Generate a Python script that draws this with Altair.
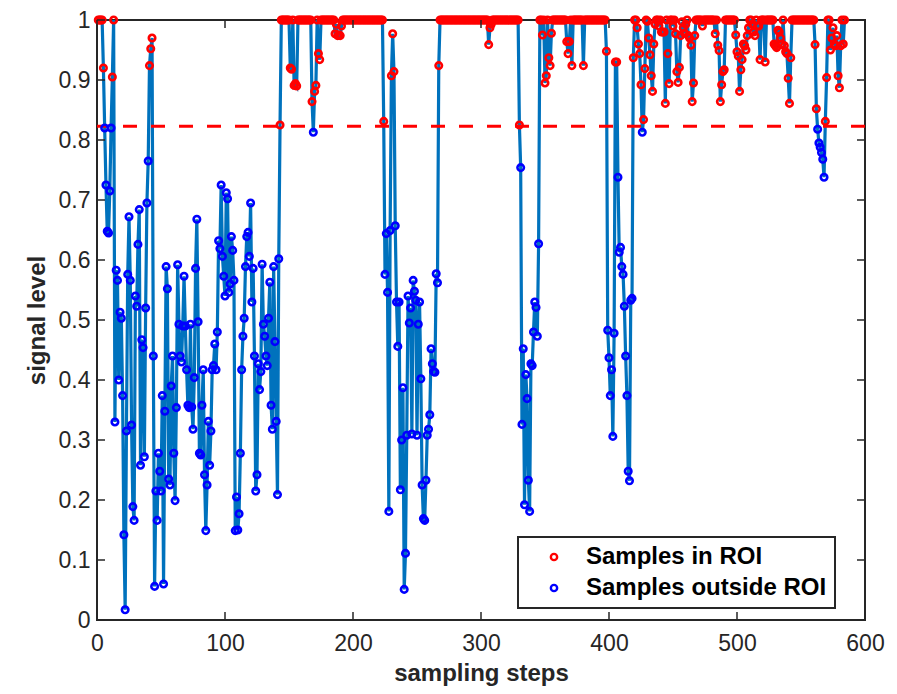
import altair as alt
import pandas as pd

# ---- data (value at each sampling step, starting at step 1) ----
seg_a = [  # steps 1-143
    1, 1, 1, 1, 0.92, 0.82, 0.725, 0.648, 0.645, 0.715, 0.82, 0.905, 1,
    0.33, 0.583, 0.566, 0.40, 0.513, 0.503, 0.374, 0.142, 0.017, 0.315,
    0.576, 0.672, 0.566, 0.325, 0.189, 0.166, 0.54, 0.523, 0.626, 0.684,
    0.258, 0.467, 0.454, 0.272, 0.52, 0.695, 0.765, 0.924, 0.952, 0.970,
    0.44, 0.056, 0.215, 0.166, 0.278, 0.248, 0.215, 0.374, 0.06, 0.348,
    0.589, 0.552, 0.235, 0.225, 0.39, 0.44, 0.278, 0.199, 0.354, 0.592,
    0.493, 0.44, 0.43, 0.49, 0.573, 0.49, 0.417, 0.358, 0.354, 0.493,
    0.355, 0.318, 0.404, 0.586, 0.668, 0.497, 0.278, 0.275, 0.358, 0.417,
    0.242, 0.149, 0.225, 0.331, 0.258, 0.315, 0.417, 0.424,
    0.46, 0.417, 0.48, 0.632, 0.619, 0.725, 0.606, 0.573, 0.54, 0.712,
    0.702, 0.546, 0.56, 0.639, 0.616, 0.566, 0.149, 0.205, 0.15, 0.177,
    0.278, 0.417, 0.473, 0.503, 0.589, 0.639, 0.646, 0.606, 0.695, 0.53,
    0.586, 0.44, 0.215, 0.242, 0.427, 0.384, 0.414, 0.593, 0.493, 0.473,
    0.44, 0.424, 0.503, 0.563, 0.358, 0.318, 0.589, 0.464, 0.331, 0.209,
    0.602, 0.825,
]
seg_b = [  # steps 144-222
    1, 1, 1, 1, 1, 1, 1,
    0.92, 0.918, 1, 0.891, 0.894, 0.89,
    1, 1, 1, 1, 1, 1, 1, 1, 1, 1, 1,
    0.864, 0.813, 0.881, 0.891, 1, 0.944, 0.934,
    1, 1, 1, 1, 1, 1, 1, 1, 1, 1, 1,
    0.977, 0.993, 0.974, 0.975, 0.974, 0.99,
    1, 1, 1, 1, 1, 1, 1, 1, 1, 1,
    1, 1, 1, 1, 1, 1, 1, 1, 1, 1,
    1, 1, 1, 1, 1, 1, 1, 1, 1, 1, 1,
]
seg_c = [  # steps 223-267
    1, 0.831, 0.576, 0.644, 0.546, 0.181, 0.649, 0.907, 0.977, 0.914,
    0.657, 0.53, 0.456, 0.53, 0.217, 0.30, 0.387, 0.051, 0.111, 0.308,
    0.54, 0.495, 0.52, 0.31, 0.566, 0.548, 0.533, 0.308, 0.493, 0.53,
    0.402, 0.225, 0.169, 0.166, 0.233, 0.308, 0.318, 0.342, 0.452, 0.427,
    0.414, 0.413, 0.577, 0.562, 0.924,
]
seg_d = [  # steps 268-398
    1, 1, 1, 1, 1, 1, 1, 1, 1, 1,
    1, 1, 1, 1, 1, 1, 1, 1, 1, 1,
    1, 1, 1, 1, 1, 1, 1, 1, 1, 1,
    1, 1, 1, 1, 1, 1, 1, 1,
    0.959, 0.987, 0.993,
    1, 1, 1, 1, 1, 1, 1, 1, 1, 1,
    1, 1, 1, 1, 1, 1, 1, 1, 1, 1, 1,
    0.825, 0.754, 0.326, 0.452, 0.192, 0.409, 0.369, 0.233, 0.181, 0.427,
    0.424, 0.48, 0.53, 0.521, 0.473, 0.627,
    1, 1, 0.975, 1, 0.895, 0.907, 1, 0.937, 0.924, 0.978,
    1, 1, 1, 1, 1, 1, 1, 1, 1, 1, 1,
    0.964, 0.944, 0.964, 1, 0.924,
    1, 1, 1, 1, 1, 1, 1, 1,
    0.924,
    1, 1, 1, 1, 1, 1, 1, 1, 1, 1,
    1, 1, 1, 1, 1, 1, 1,
    0.948,
]
seg_e = [  # steps 399-419
    0.483, 0.437, 0.374, 0.417, 0.306, 0.478, 0.93, 0.93, 0.738, 0.613,
    0.621, 0.589, 0.576, 0.523, 0.44, 0.374, 0.248, 0.232, 0.533, 0.536,
    0.937,
]
seg_f = [  # steps 420-584
    1, 1, 0.987, 0.96, 0.944, 0.892, 0.813, 0.834, 0.919, 1,
    0.998, 0.97, 0.942, 0.907, 0.881, 0.96, 0.993, 1, 1, 0.99,
    1, 0.98, 0.98, 0.98, 0.861, 1, 0.944, 0.894, 1, 1,
    0.99, 1, 0.977, 0.914, 0.896, 0.921, 0.974, 0.997, 0.987, 0.978,
    0.993, 1, 0.974, 0.97, 0.958, 0.864, 0.895, 0.974, 1,
    1, 1, 1, 1, 0.99, 1, 1, 1, 1, 1, 1, 1, 1, 1,
    0.977, 1, 0.958, 0.949, 0.864, 0.892, 0.914, 0.917,
    1, 1, 1, 1, 1, 1, 1, 1,
    0.975, 0.947, 0.94, 0.881, 0.917, 0.934, 0.96, 0.957, 0.95, 0.974,
    0.987, 1, 1, 0.993, 0.98, 0.974, 1, 0.99, 0.99, 0.934,
    1, 1, 1, 0.93, 1, 1, 1, 1, 1, 1,
    0.96, 0.957, 0.954, 0.983, 0.98, 0.97, 0.96, 1, 0.957, 0.947,
    0.944, 0.903, 0.861, 0.937,
    1, 1, 1, 1, 1, 1, 1, 1, 1, 1, 1, 1, 1, 1, 1, 1, 1, 1,
    0.959, 0.852, 0.818, 0.795, 0.788, 0.779, 0.768, 0.738, 0.831, 0.904,
    1, 1, 0.95, 0.97, 0.987, 0.96, 0.957, 0.974, 0.907, 0.887,
    0.957, 1, 0.96, 1,
]

signal = seg_a + seg_b + seg_c + seg_d + seg_e + seg_f
steps = list(range(1, len(signal) + 1))
threshold = [0.823]
x_ticks = [0, 100, 200, 300, 400, 500, 600]
y_ticks = [0, 0.1, 0.2, 0.3, 0.4, 0.5, 0.6, 0.7, 0.8, 0.9, 1]
legend_labels = ["Samples in ROI", "Samples outside ROI"]

df = pd.DataFrame({"step": steps, "signal": signal})
df["group"] = [legend_labels[0] if v >= threshold[0] else legend_labels[1] for v in signal]

W, H = 768, 600
FONT = "Liberation Sans"
TXT = "#262626"
TL = 8  # inward tick length

xs = alt.Scale(domain=[0, 600], nice=False, zero=False)
ys = alt.Scale(domain=[0, 1], nice=False, zero=False)

x_axis = alt.Axis(values=x_ticks, format="d", labelFontSize=23, labelFont=FONT,
                  labelColor=TXT, labelPadding=12, ticks=False, tickSize=0,
                  domain=False, grid=False, labelFlush=False,
                  title="sampling steps", titleFont=FONT, titleFontSize=24,
                  titleFontWeight="bold", titleColor=TXT, titleX=W / 2, titleY=60,
                  titleAlign="center", titleBaseline="alphabetic")
y_axis = alt.Axis(values=y_ticks, format="~g", labelFontSize=23, labelFont=FONT,
                  labelColor=TXT, labelPadding=7, ticks=False, tickSize=0,
                  domain=False, grid=False, labelFlush=False,
                  title="signal level", titleFont=FONT, titleFontSize=24,
                  titleFontWeight="bold", titleColor=TXT, titleX=-60, titleY=H / 2,
                  titleAngle=270, titleAlign="center", titleBaseline="middle")


def X(field):
    return alt.X(field, scale=xs, axis=x_axis, title="sampling steps")


def Y(field):
    return alt.Y(field, scale=ys, axis=y_axis, title="signal level")


base = alt.Chart(df)
line = base.mark_line(color="#0072BD", strokeWidth=3.2).encode(
    x=X("step:Q"), y=Y("signal:Q"),
)

thr = alt.Chart(pd.DataFrame({"t": threshold})).mark_rule(
    color="#FF0000", strokeWidth=3, strokeDash=[14, 14]
).encode(y=Y("t:Q"))

points = base.mark_point(shape="circle", filled=False, size=42, strokeWidth=2.6,
                         opacity=1).encode(
    x=X("step:Q"), y=Y("signal:Q"),
    color=alt.Color("group:N",
                    scale=alt.Scale(domain=legend_labels, range=["#FF0000", "#0000FF"]),
                    legend=alt.Legend(title=None, orient="none", legendX=421, legendY=517,
                                      strokeColor=TXT, fillColor="white", padding=8,
                                      labelFontSize=24, labelFontWeight="bold",
                                      labelFont=FONT, labelColor="black", labelLimit=500,
                                      symbolSize=40, symbolStrokeWidth=2.4,
                                      symbolOffset=16, labelOffset=20, rowPadding=7)),
)

xt_df = pd.DataFrame({"v": x_ticks})
yt_df = pd.DataFrame({"v": y_ticks})
tick_style = dict(color=TXT, strokeWidth=1.5)
xt_bottom = alt.Chart(xt_df).mark_rule(**tick_style).encode(
    x=X("v:Q"), y=alt.value(H), y2=alt.value(H - TL))
xt_top = alt.Chart(xt_df).mark_rule(**tick_style).encode(
    x=X("v:Q"), y=alt.value(0), y2=alt.value(TL))
yt_left = alt.Chart(yt_df).mark_rule(**tick_style).encode(
    y=Y("v:Q"), x=alt.value(0), x2=alt.value(TL))
yt_right = alt.Chart(yt_df).mark_rule(**tick_style).encode(
    y=Y("v:Q"), x=alt.value(W), x2=alt.value(W - TL))

chart = alt.layer(line, thr, points, xt_bottom, xt_top, yt_left, yt_right).properties(
    width=W, height=H,
    autosize=alt.AutoSizeParams(type="none"),
    padding={"left": 89, "top": 12, "right": 24, "bottom": 66},
).configure_view(
    stroke=TXT, strokeWidth=2
).configure_legend(
    strokeWidth=2
)

chart.save("out.html", embed_options={"renderer": "svg", "actions": False})
